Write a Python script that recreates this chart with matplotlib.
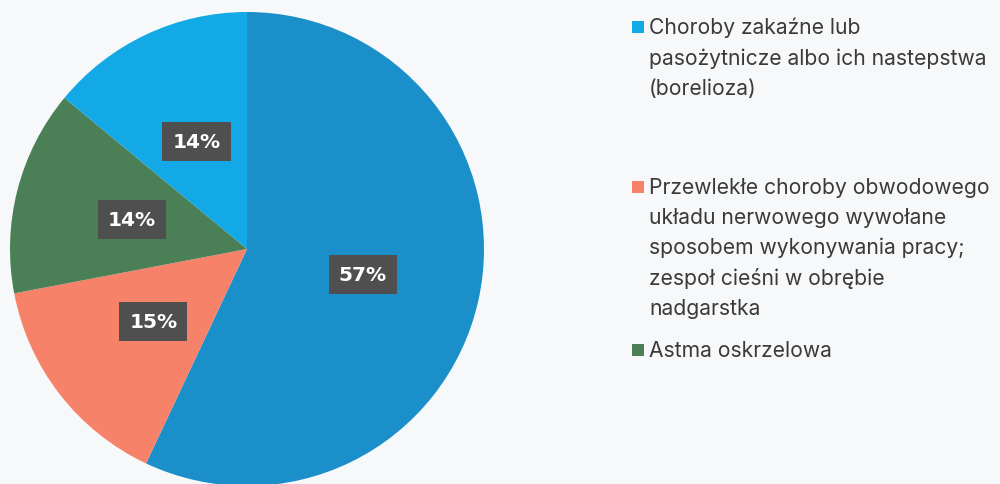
import matplotlib.pyplot as plt
from matplotlib.patches import Rectangle

# slice values (clockwise from 12 o'clock)
values = [57, 15, 14, 14]
pct_labels = ["57%", "15%", "14%", "14%"]
colors = ["#1b8fc9", "#f7826a", "#4b7f55", "#12a9e6"]

# legend entries visible in the picture
legend_labels = [
    "Choroby zakaźne lub\npasożytnicze albo ich nastepstwa\n(borelioza)",
    "Przewlekłe choroby obwodowego\nukładu nerwowego wywołane\nsposobem wykonywania pracy;\nzespoł cieśni w obrębie\nnadgarstka",
    "Astma oskrzelowa",
]
legend_colors = ["#12a9e6", "#f7826a", "#4b7f55"]
legend_y = [28, 188, 351]

W, H = 1000, 485
cx, cy, R = 247, 250, 237
bg = "#f6f8f9"

fig = plt.figure(figsize=(W / 100, H / 100), dpi=100, facecolor=bg)
ax = fig.add_axes([0, 0, 1, 1])
ax.set_facecolor(bg)

wedges, texts = ax.pie(values, colors=colors, startangle=90, counterclock=False,
                       radius=1, labels=pct_labels, labeldistance=0.5,
                       wedgeprops=dict(linewidth=0))
for t in texts:
    t.set_ha("center")
    t.set_va("center")
    t.set_color("white")
    t.set_fontsize(14.5)
    t.set_fontweight("bold")
    t.set_family("DejaVu Sans")
    t.set_bbox(dict(boxstyle="square,pad=0.5", fc="#4f4f4f", ec="none"))

ax.set_xlim(-cx / R, (W - cx) / R)
ax.set_ylim(-(H - cy) / R, cy / R)
ax.set_aspect("auto")
ax.axis("off")

for lab, col, y in zip(legend_labels, legend_colors, legend_y):
    fig.patches.append(Rectangle((632 / W, 1 - (y + 6) / H), 12 / W, 12 / H,
                                 transform=fig.transFigure, fc=col, ec="none"))
    fig.text(649 / W, 1 - (y - 10) / H, lab, ha="left", va="top",
             fontsize=15.2, family="Inter", color="#3a3a3a", linespacing=1.6)

fig.savefig("out.png", dpi=100, facecolor=bg)
